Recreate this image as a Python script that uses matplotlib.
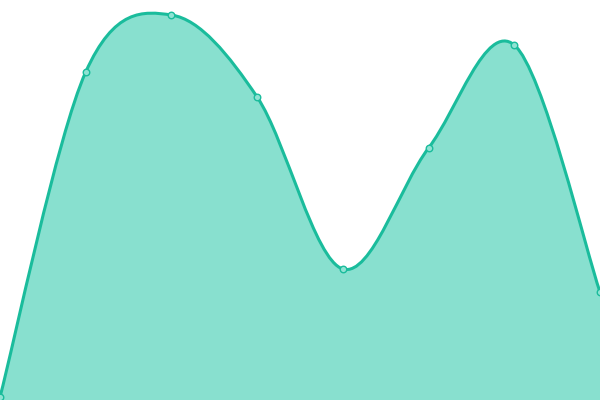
import matplotlib
matplotlib.use("Agg")
import matplotlib.pyplot as plt
from matplotlib.path import Path
from matplotlib.patches import PathPatch
import numpy as np

# data
x_vals = [0, 1, 2, 3, 4, 5, 6, 7]
y_vals = [3, 328, 385, 303, 131, 252, 355, 108]

line_color = "#1abc9c"
fill_color = "#88e0cf"


def smooth_path(xs, ys, closed_bottom=None):
    # catmull-rom style cubic bezier through the points
    pts = np.column_stack([xs, ys]).astype(float)
    n = len(pts)
    verts = [pts[0]]
    codes = [Path.MOVETO]
    for i in range(n - 1):
        p0 = pts[i - 1] if i > 0 else pts[i]
        p1 = pts[i]
        p2 = pts[i + 1]
        p3 = pts[i + 2] if i + 2 < n else pts[i + 1]
        c1 = p1 + (p2 - p0) / 6.0
        c2 = p2 - (p3 - p1) / 6.0
        verts += [c1, c2, p2]
        codes += [Path.CURVE4] * 3
    if closed_bottom is not None:
        verts += [(xs[-1], closed_bottom), (xs[0], closed_bottom), pts[0]]
        codes += [Path.LINETO, Path.LINETO, Path.CLOSEPOLY]
    return Path(verts, codes)


fig = plt.figure(figsize=(6, 4), dpi=100)
ax = fig.add_axes([0, 0, 1, 1])

ax.add_patch(PathPatch(smooth_path(x_vals, y_vals, closed_bottom=0),
                       facecolor=fill_color, edgecolor="none"))
ax.add_patch(PathPatch(smooth_path(x_vals, y_vals), facecolor="none",
                       edgecolor=line_color, linewidth=2.2))
ax.scatter(x_vals, y_vals, s=22, facecolor="#8fe3d3", edgecolor=line_color,
           linewidth=1.0, zorder=3)

ax.set_xlim(0, 7)
ax.set_ylim(0, 400)
ax.axis("off")

fig.savefig("out.png", dpi=100)
